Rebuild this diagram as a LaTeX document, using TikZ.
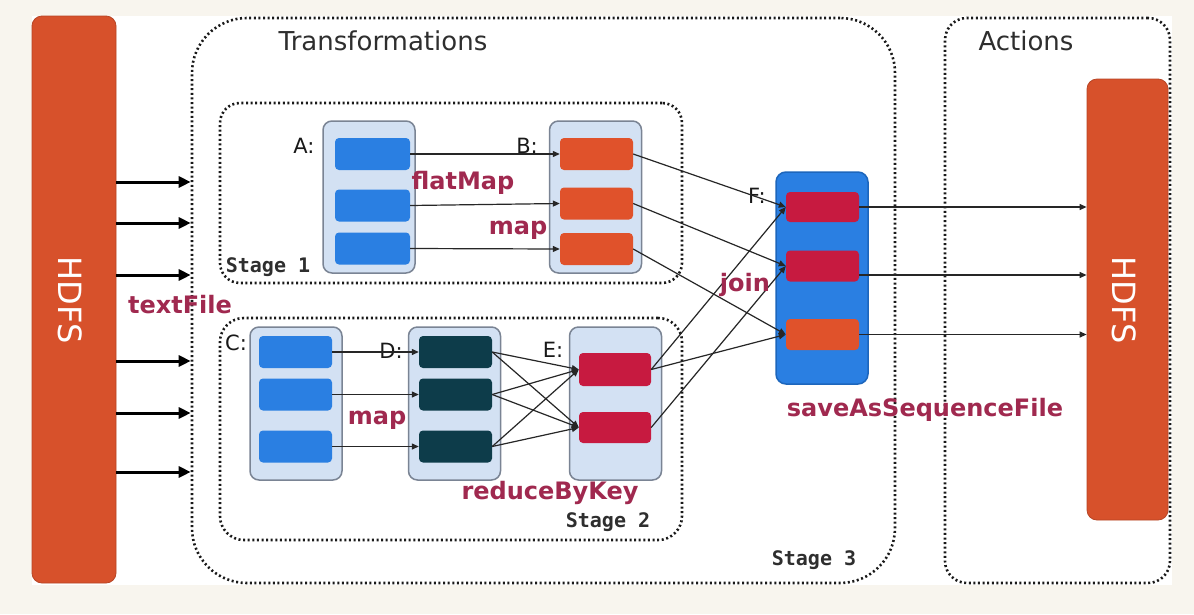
\documentclass[tikz,border=0pt]{standalone}
\usepackage{fontspec}
\setmainfont{DejaVu Sans}
\newfontfamily\monof{DejaVu Sans Mono}
\usetikzlibrary{arrows.meta}
\definecolor{cream}{HTML}{F8F5EE}
\definecolor{hdfsor}{HTML}{D7512B}
\definecolor{contfill}{HTML}{D3E1F3}
\definecolor{contdraw}{HTML}{7A8494}
\definecolor{cblue}{HTML}{2A7FE2}
\definecolor{cblueD}{HTML}{1D66BC}
\definecolor{corange}{HTML}{E0522B}
\definecolor{ccrimson}{HTML}{C71A40}
\definecolor{cteal}{HTML}{0D3C4A}
\definecolor{maroon}{HTML}{A0294F}
\definecolor{txtgray}{HTML}{2E2E2E}
\begin{document}
\begin{tikzpicture}[x=1pt,y=-1pt,
  dotbox/.style={draw=black!90, line width=2.6pt, dash pattern=on 2pt off 2.6pt, line cap=butt, inner sep=0, fill=none},
  cont/.style={draw=contdraw, fill=contfill, line width=1.5pt, rounded corners=9pt, minimum width=92pt, minimum height=153pt, inner sep=0},
  cell/.style={rounded corners=4pt, minimum width=73pt, minimum height=32pt, inner sep=0},
  bar/.style={fill=hdfsor, draw=hdfsor!85!black, line width=0.8pt, rounded corners=10pt, inner sep=0},
  hdfstxt/.style={text=white, rotate=-90, font=\fontsize{32}{36}\selectfont},
  title/.style={text=txtgray, font=\fontsize{26}{30}\selectfont},
  letter/.style={text=black!90, font=\fontsize{21}{24}\selectfont},
  oplabel/.style={text=maroon, font=\bfseries\fontsize{24}{28}\selectfont},
  stagelbl/.style={text=txtgray, font=\monof\bfseries\fontsize{20}{24}\selectfont},
  thin/.style={draw=black!85, line width=1.2pt, -{Triangle[length=7pt,width=6pt]}},
  thickarr/.style={draw=black, line width=3pt, -{Triangle[length=12pt,width=11pt]}}
]
% background
\fill[cream] (0,0) rectangle (1194,614);
\fill[white] (32,16) rectangle (1172,585);

% dotted boxes
\node[dotbox, rounded corners=55pt, minimum width=703pt, minimum height=565pt] (trans) at (543.5,300.5) {};
\node[dotbox, rounded corners=22pt, minimum width=225pt, minimum height=565pt] (act) at (1057.5,300.5) {};
\node[dotbox, rounded corners=20pt, minimum width=462pt, minimum height=180pt] (st1) at (451,193) {};
\node[dotbox, rounded corners=24pt, minimum width=462pt, minimum height=222pt] (st2) at (451,429) {};

% HDFS bars
\node[bar, minimum width=84pt, minimum height=567pt] (hdfsL) at (74,299.5) {};
\node[hdfstxt] (hdfsLt) at (70,300) {HDFS};
\node[bar, minimum width=81pt, minimum height=441pt] (hdfsR) at (1127.5,299.5) {};
\node[hdfstxt] (hdfsRt) at (1124,300) {HDFS};

% titles
\node[title] (ttrans) at (383,41) {Transformations};
\node[title] (tact) at (1026,41) {Actions};

% Stage labels
\node[stagelbl] (s1) at (268,267) {Stage 1};
\node[stagelbl] (s2) at (608,522) {Stage 2};
\node[stagelbl] (s3) at (814,560) {Stage 3};

% containers
\node[cont, minimum height=152pt] (A) at (369,197) {};
\node[cont, minimum height=152pt] (B) at (595.5,197) {};
\node[cont] (C) at (296,403.5) {};
\node[cont] (D) at (454.5,403.5) {};
\node[cont] (E) at (615.5,403.5) {};
\node[draw=cblueD, fill=cblue, line width=1.5pt, rounded corners=10pt, minimum width=92pt, minimum height=212pt, inner sep=0] (F) at (822,278) {};

% cells
\node[cell, fill=cblue, minimum width=75pt] (a1) at (372.5,154) {};
\node[cell, fill=cblue, minimum width=75pt] (a2) at (372.5,205.5) {};
\node[cell, fill=cblue, minimum width=75pt] (a3) at (372.5,248.5) {};
\node[cell, fill=corange] (b1) at (596.5,154) {};
\node[cell, fill=corange] (b2) at (596.5,203.5) {};
\node[cell, fill=corange] (b3) at (596.5,249) {};
\node[cell, fill=cblue] (c1) at (295.5,352) {};
\node[cell, fill=cblue] (c2) at (295.5,394.5) {};
\node[cell, fill=cblue] (c3) at (295.5,446.5) {};
\node[cell, fill=cteal] (d1) at (455.5,352) {};
\node[cell, fill=cteal] (d2) at (455.5,394.5) {};
\node[cell, fill=cteal] (d3) at (455.5,446.5) {};
\node[cell, fill=ccrimson, minimum width=72pt, minimum height=33pt] (e1) at (615,369.5) {};
\node[cell, fill=ccrimson, minimum width=72pt, minimum height=31pt] (e2) at (615,427.5) {};
\node[cell, fill=ccrimson, minimum height=30pt] (f1) at (822.5,207) {};
\node[cell, fill=ccrimson, minimum height=31pt] (f2) at (822.5,266) {};
\node[cell, fill=corange, minimum height=31pt] (f3) at (822.5,334.5) {};

% letters
\node[letter] (lA) at (304,146) {A:};
\node[letter] (lB) at (527,146) {B:};
\node[letter] (lC) at (236,343) {C:};
\node[letter] (lD) at (391,351) {D:};
\node[letter] (lE) at (553,350) {E:};
\node[letter] (lF) at (757,196) {F:};

% left thick arrows
\foreach \yy [count=\i] in {182,223,275,361,413,472}{
  \coordinate (lin\i) at (0,\yy);
  \draw[thickarr] (hdfsL.east |- lin\i) -- (trans.west |- lin\i);
}

% A -> B
\draw[thin] (a1.east) -- (b1.west);
\draw[thin] (a2.east) -- (b2.west);
\draw[thin] (a3.east) -- (b3.west);
% C -> D
\draw[thin] (c1.east) -- (d1.west);
\draw[thin] (c2.east) -- (d2.west);
\draw[thin] (c3.east) -- (d3.west);
% D -> E
\foreach \d in {d1,d2,d3}{
  \draw[thin] (\d.east) -- (e1.west);
  \draw[thin] (\d.east) -- (e2.west);
}
% B -> F
\draw[thin] (b1.east) -- (f1.west);
\draw[thin] (b2.east) -- (f2.west);
\draw[thin] (b3.east) -- (f3.west);
% E -> F
\draw[thin] (e1.east) -- (f1.west);
\draw[thin] (e1.east) -- (f3.west);
\draw[thin] (e2.east) -- (f2.west);
% F -> HDFS
\draw[thin] (f1.east) -- (f1.east -| hdfsR.west);
\draw[thin] ([yshift=-9pt]f2.east) -- ([yshift=-9pt]f2.east -| hdfsR.west);
\draw[thin] (f3.east) -- (f3.east -| hdfsR.west);

% operation labels
\node[oplabel] (ltext) at (180,305) {textFile};
\node[oplabel] (lflat) at (463,183) {flatMap};
\node[oplabel] (lmap1) at (518,230) {map};
\node[oplabel] (lmap2) at (377,420) {map};
\node[oplabel] (lred) at (550,493) {reduceByKey};
\node[oplabel] (ljoin) at (745,285) {join};
\node[oplabel] (lsave) at (925,410) {saveAsSequenceFile};
\end{tikzpicture}
\end{document}
